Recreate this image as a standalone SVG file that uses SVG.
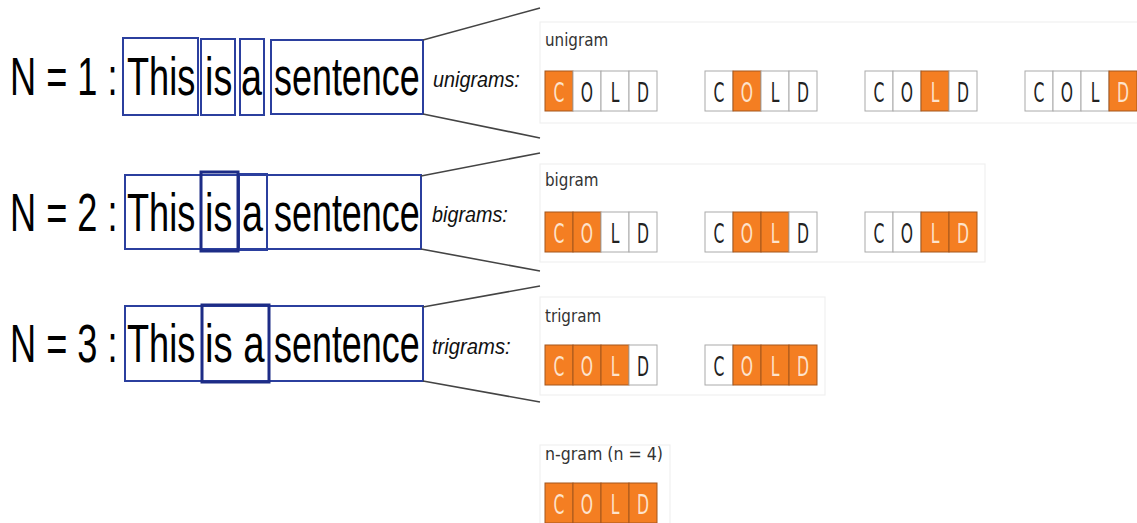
<svg xmlns="http://www.w3.org/2000/svg" width="1137" height="523" viewBox="0 0 1137 523">
  <style>
    .big { font-family: "Liberation Sans", Arial, sans-serif; font-size: 54px; fill: #000; }
    .lab { font-family: "Liberation Sans", Arial, sans-serif; font-size: 22px; font-style: italic; fill: #111; }
    .box { fill: none; stroke: #2b3f9e; stroke-width: 2; }
    .box.hl { stroke: #1d2c86; stroke-width: 3; }
    .conn { stroke: #444; stroke-width: 1.6; fill: none; }
    .panel { fill: none; stroke: #f0f0f0; stroke-width: 1.2; }
    .ttl { font-family: "DejaVu Sans", "Open Sans", sans-serif; font-size: 17px; fill: #333; }
    .off { fill: #fff; stroke: #aaa; stroke-width: 1; }
    .on { fill: #f47e22; stroke: #a4561c; stroke-width: 1; }
    .lt { font-family: "DejaVu Sans", sans-serif; font-size: 26px; text-anchor: middle; fill: #222; }
    .lt.w { fill: #fde3cc; }
  </style>

  <rect width="1137" height="523" fill="#fff"/>

  <!-- light panels behind each gram row -->
  <g id="panels">
    <rect class="panel" x="540" y="22" width="600" height="101"/>
    <rect class="panel" x="540" y="164" width="445" height="98"/>
    <rect class="panel" x="540" y="297" width="285" height="98"/>
    <rect class="panel" x="540" y="445" width="130" height="80"/>
  </g>

  <!-- sentence rows (narrow type: glyphs squeezed horizontally) -->
  <g id="row1">
    <text class="big" transform="translate(10 95) scale(0.67 1)">N = 1 :</text>
    <rect class="box" x="123" y="38" width="75" height="77"/>
    <rect class="box" x="201" y="39" width="34" height="76"/>
    <rect class="box" x="240" y="39" width="24" height="76"/>
    <rect class="box" x="271" y="40" width="152" height="74"/>
    <text class="big" transform="translate(127 95) scale(0.67 1)">This</text>
    <text class="big" transform="translate(205 95) scale(0.7 1)">is</text>
    <text class="big" transform="translate(241 95) scale(0.7 1)">a</text>
    <text class="big" transform="translate(274 95) scale(0.665 1)">sentence</text>
    <text class="lab" transform="translate(433 87) scale(0.9 1)">unigrams:</text>
  </g>

  <g id="row2">
    <text class="big" transform="translate(10 231) scale(0.67 1)">N = 2 :</text>
    <rect class="box" x="125" y="175" width="296" height="74"/>
    <rect class="box" x="239" y="174" width="28" height="76"/>
    <rect class="box hl" x="201" y="172" width="37" height="79"/>
    <text class="big" transform="translate(127 231) scale(0.67 1)">This</text>
    <text class="big" transform="translate(205 231) scale(0.7 1)">is</text>
    <text class="big" transform="translate(242 231) scale(0.7 1)">a</text>
    <text class="big" transform="translate(274 231) scale(0.665 1)">sentence</text>
    <text class="lab" transform="translate(432 222) scale(0.9 1)">bigrams:</text>
  </g>

  <g id="row3">
    <text class="big" transform="translate(10 362) scale(0.67 1)">N = 3 :</text>
    <rect class="box" x="125" y="306" width="298" height="75"/>
    <rect class="box hl" x="202" y="305" width="67" height="77"/>
    <text class="big" transform="translate(127 362) scale(0.67 1)">This</text>
    <text class="big" transform="translate(205 362) scale(0.71 1)">is a</text>
    <text class="big" transform="translate(274 362) scale(0.665 1)">sentence</text>
    <text class="lab" transform="translate(432 354) scale(0.92 1)">trigrams:</text>
  </g>

  <!-- fan-out lines from each sentence to its gram panel -->
  <g id="connectors">
    <line class="conn" x1="423" y1="40" x2="540" y2="8"/>
    <line class="conn" x1="423" y1="114" x2="540" y2="138"/>
    <line class="conn" x1="421" y1="176" x2="540" y2="153"/>
    <line class="conn" x1="421" y1="249" x2="540" y2="271"/>
    <line class="conn" x1="423" y1="307" x2="540" y2="286"/>
    <line class="conn" x1="423" y1="381" x2="540" y2="402"/>
  </g>

  <!-- panel titles -->
  <text class="ttl" transform="translate(545 46) scale(0.89 1)">unigram</text>
  <text class="ttl" transform="translate(545 186) scale(0.89 1)">bigram</text>
  <text class="ttl" transform="translate(545 322) scale(0.89 1)">trigram</text>
  <text class="ttl" transform="translate(545 460) scale(0.93 1)">n-gram (n = 4)</text>

  <!-- unigram blocks -->
  <g id="uni1" transform="translate(545 71)">
    <rect class="on" x="0" width="28" height="40"/><rect class="off" x="28" width="28" height="40"/><rect class="off" x="56" width="28" height="40"/><rect class="off" x="84" width="28" height="40"/>
    <text class="lt w" transform="translate(14 31) scale(0.6 1)">C</text><text class="lt" transform="translate(42 31) scale(0.6 1)">O</text><text class="lt" transform="translate(70 31) scale(0.6 1)">L</text><text class="lt" transform="translate(98 31) scale(0.6 1)">D</text>
  </g>
  <g id="uni2" transform="translate(705 71)">
    <rect class="off" x="0" width="28" height="40"/><rect class="on" x="28" width="28" height="40"/><rect class="off" x="56" width="28" height="40"/><rect class="off" x="84" width="28" height="40"/>
    <text class="lt" transform="translate(14 31) scale(0.6 1)">C</text><text class="lt w" transform="translate(42 31) scale(0.6 1)">O</text><text class="lt" transform="translate(70 31) scale(0.6 1)">L</text><text class="lt" transform="translate(98 31) scale(0.6 1)">D</text>
  </g>
  <g id="uni3" transform="translate(865 71)">
    <rect class="off" x="0" width="28" height="40"/><rect class="off" x="28" width="28" height="40"/><rect class="on" x="56" width="28" height="40"/><rect class="off" x="84" width="28" height="40"/>
    <text class="lt" transform="translate(14 31) scale(0.6 1)">C</text><text class="lt" transform="translate(42 31) scale(0.6 1)">O</text><text class="lt w" transform="translate(70 31) scale(0.6 1)">L</text><text class="lt" transform="translate(98 31) scale(0.6 1)">D</text>
  </g>
  <g id="uni4" transform="translate(1025 71)">
    <rect class="off" x="0" width="28" height="40"/><rect class="off" x="28" width="28" height="40"/><rect class="off" x="56" width="28" height="40"/><rect class="on" x="84" width="28" height="40"/>
    <text class="lt" transform="translate(14 31) scale(0.6 1)">C</text><text class="lt" transform="translate(42 31) scale(0.6 1)">O</text><text class="lt" transform="translate(70 31) scale(0.6 1)">L</text><text class="lt w" transform="translate(98 31) scale(0.6 1)">D</text>
  </g>

  <!-- bigram blocks -->
  <g id="bi1" transform="translate(545 212)">
    <rect class="on" x="0" width="28" height="40"/><rect class="on" x="28" width="28" height="40"/><rect class="off" x="56" width="28" height="40"/><rect class="off" x="84" width="28" height="40"/>
    <text class="lt w" transform="translate(14 31) scale(0.6 1)">C</text><text class="lt w" transform="translate(42 31) scale(0.6 1)">O</text><text class="lt" transform="translate(70 31) scale(0.6 1)">L</text><text class="lt" transform="translate(98 31) scale(0.6 1)">D</text>
  </g>
  <g id="bi2" transform="translate(705 212)">
    <rect class="off" x="0" width="28" height="40"/><rect class="on" x="28" width="28" height="40"/><rect class="on" x="56" width="28" height="40"/><rect class="off" x="84" width="28" height="40"/>
    <text class="lt" transform="translate(14 31) scale(0.6 1)">C</text><text class="lt w" transform="translate(42 31) scale(0.6 1)">O</text><text class="lt w" transform="translate(70 31) scale(0.6 1)">L</text><text class="lt" transform="translate(98 31) scale(0.6 1)">D</text>
  </g>
  <g id="bi3" transform="translate(865 212)">
    <rect class="off" x="0" width="28" height="40"/><rect class="off" x="28" width="28" height="40"/><rect class="on" x="56" width="28" height="40"/><rect class="on" x="84" width="28" height="40"/>
    <text class="lt" transform="translate(14 31) scale(0.6 1)">C</text><text class="lt" transform="translate(42 31) scale(0.6 1)">O</text><text class="lt w" transform="translate(70 31) scale(0.6 1)">L</text><text class="lt w" transform="translate(98 31) scale(0.6 1)">D</text>
  </g>

  <!-- trigram blocks -->
  <g id="tri1" transform="translate(545 345)">
    <rect class="on" x="0" width="28" height="40"/><rect class="on" x="28" width="28" height="40"/><rect class="on" x="56" width="28" height="40"/><rect class="off" x="84" width="28" height="40"/>
    <text class="lt w" transform="translate(14 31) scale(0.6 1)">C</text><text class="lt w" transform="translate(42 31) scale(0.6 1)">O</text><text class="lt w" transform="translate(70 31) scale(0.6 1)">L</text><text class="lt" transform="translate(98 31) scale(0.6 1)">D</text>
  </g>
  <g id="tri2" transform="translate(705 345)">
    <rect class="off" x="0" width="28" height="40"/><rect class="on" x="28" width="28" height="40"/><rect class="on" x="56" width="28" height="40"/><rect class="on" x="84" width="28" height="40"/>
    <text class="lt" transform="translate(14 31) scale(0.6 1)">C</text><text class="lt w" transform="translate(42 31) scale(0.6 1)">O</text><text class="lt w" transform="translate(70 31) scale(0.6 1)">L</text><text class="lt w" transform="translate(98 31) scale(0.6 1)">D</text>
  </g>

  <!-- 4-gram block -->
  <g id="quad1" transform="translate(545 483)">
    <rect class="on" x="0" width="28" height="40"/><rect class="on" x="28" width="28" height="40"/><rect class="on" x="56" width="28" height="40"/><rect class="on" x="84" width="28" height="40"/>
    <text class="lt w" transform="translate(14 31) scale(0.6 1)">C</text><text class="lt w" transform="translate(42 31) scale(0.6 1)">O</text><text class="lt w" transform="translate(70 31) scale(0.6 1)">L</text><text class="lt w" transform="translate(98 31) scale(0.6 1)">D</text>
  </g>
</svg>
